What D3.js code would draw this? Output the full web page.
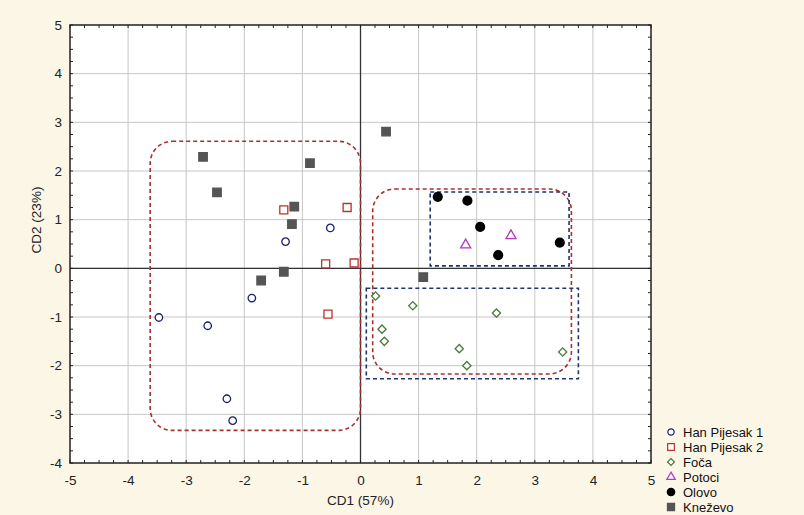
<!DOCTYPE html>
<html>
<head>
<meta charset="utf-8">
<script src="https://cdn.jsdelivr.net/npm/d3@7"></script>
<style>
  body { margin: 0; background: #fcf6e7; }
  text { font-family: "Liberation Sans", Arial, sans-serif; }
</style>
</head>
<body>
<div id="chart"></div>
<script>
// Axis ticks
const xTicks = d3.range(-5, 6);
const yTicks = d3.range(-4, 6);

// Group scores (CD1, CD2)
const hanP1X = [-0.52, -1.29, -1.87, -3.47, -2.63, -2.30, -2.20];
const hanP1Y = [0.83, 0.55, -0.61, -1.01, -1.18, -2.68, -3.13];
const hanP2X = [-1.32, -0.23, -0.60, -0.11, -0.56];
const hanP2Y = [1.20, 1.25, 0.09, 0.11, -0.94];
const focaX = [0.26, 0.90, 2.34, 0.37, 0.41, 1.70, 1.83, 3.48];
const focaY = [-0.57, -0.77, -0.92, -1.25, -1.50, -1.65, -2.00, -1.72];
const potociX = [2.59, 1.81];
const potociY = [0.67, 0.48];
const olovoX = [1.33, 1.84, 2.06, 3.43, 2.37];
const olovoY = [1.47, 1.39, 0.85, 0.53, 0.27];
const knezX = [-2.71, -0.87, -2.47, -1.14, -1.18, -1.32, -1.71, 0.44, 1.08];
const knezY = [2.29, 2.16, 1.56, 1.27, 0.91, -0.07, -0.25, 2.81, -0.18];

const seriesNames = ['Han Pijesak 1', 'Han Pijesak 2', 'Foča', 'Potoci', 'Olovo', 'Kneževo'];

// Dashed group outlines in data units: [x0, x1, y0, y1]
const redBoxes = [[-3.62, 0, -3.33, 2.61], [0.21, 3.63, -2.17, 1.63]];
const blueBoxes = [[1.2, 3.59, 0.05, 1.57], [0.1, 3.75, -2.27, -0.41]];

const margin = { top: 25, right: 153, bottom: 52, left: 70 };
const width = 804 - margin.left - margin.right;
const height = 515 - margin.top - margin.bottom;

const svg = d3.select('#chart')
  .append('svg')
  .attr('width', 804)
  .attr('height', 515);

const g = svg.append('g')
  .attr('transform', `translate(${margin.left}, ${margin.top})`);

const xScale = d3.scaleLinear().domain([-5, 5]).range([0, width]);
const yScale = d3.scaleLinear().domain([-4, 5]).range([height, 0]);

// plot area
g.append('rect')
  .attr('width', width)
  .attr('height', height)
  .attr('fill', '#fff');

// grid
g.selectAll('.vgrid').data(xTicks.slice(1, -1)).enter().append('line')
  .attr('x1', d => xScale(d)).attr('x2', d => xScale(d))
  .attr('y1', 0).attr('y2', height)
  .attr('stroke', '#c6c6c6').attr('stroke-width', 1);
g.selectAll('.hgrid').data(yTicks.slice(1, -1)).enter().append('line')
  .attr('y1', d => yScale(d)).attr('y2', d => yScale(d))
  .attr('x1', 0).attr('x2', width)
  .attr('stroke', '#c6c6c6').attr('stroke-width', 1);

// zero lines
g.append('line')
  .attr('x1', xScale(0)).attr('x2', xScale(0))
  .attr('y1', 0).attr('y2', height)
  .attr('stroke', '#333').attr('stroke-width', 1.3);
g.append('line')
  .attr('x1', 0).attr('x2', width)
  .attr('y1', yScale(0)).attr('y2', yScale(0))
  .attr('stroke', '#333').attr('stroke-width', 1.3);

// axes with inward ticks on all sides
const xMinor = d3.range(-5, 5.01, 0.25);
const yMinor = d3.range(-4, 5.01, 0.25);

const xBottom = g.append('g')
  .attr('transform', `translate(0, ${height})`)
  .call(d3.axisBottom(xScale).tickValues(xTicks).tickFormat(d => String(d)).tickSize(0).tickPadding(12));
const yLeft = g.append('g')
  .call(d3.axisLeft(yScale).tickValues(yTicks).tickFormat(d => String(d)).tickSize(0).tickPadding(8));
[xBottom, yLeft].forEach(a => {
  a.select('.domain').remove();
  a.selectAll('text').attr('font-size', 13.5).attr('fill', '#222')
    .attr('font-family', '"Liberation Sans", Arial, sans-serif');
});

const tickLen = 3;
g.selectAll('.tb').data(xMinor).enter().append('line')
  .attr('x1', d => xScale(d)).attr('x2', d => xScale(d))
  .attr('y1', height).attr('y2', height - tickLen)
  .attr('stroke', '#222');
g.selectAll('.tt').data(xMinor).enter().append('line')
  .attr('x1', d => xScale(d)).attr('x2', d => xScale(d))
  .attr('y1', 0).attr('y2', tickLen)
  .attr('stroke', '#222');
g.selectAll('.tl').data(yMinor).enter().append('line')
  .attr('y1', d => yScale(d)).attr('y2', d => yScale(d))
  .attr('x1', 0).attr('x2', tickLen)
  .attr('stroke', '#222');
g.selectAll('.tr').data(yMinor).enter().append('line')
  .attr('y1', d => yScale(d)).attr('y2', d => yScale(d))
  .attr('x1', width).attr('x2', width - tickLen)
  .attr('stroke', '#222');

// plot border
g.append('rect')
  .attr('width', width)
  .attr('height', height)
  .attr('fill', 'none')
  .attr('stroke', '#222')
  .attr('stroke-width', 1.5);

// group outlines
g.selectAll('.redbox').data(redBoxes).enter().append('rect')
  .attr('x', d => xScale(d[0]))
  .attr('y', d => yScale(d[3]))
  .attr('width', d => xScale(d[1]) - xScale(d[0]))
  .attr('height', d => yScale(d[2]) - yScale(d[3]))
  .attr('rx', 22).attr('ry', 22)
  .attr('fill', 'none')
  .attr('stroke', '#a8302f')
  .attr('stroke-width', 1.6)
  .attr('stroke-dasharray', '4,3');
g.selectAll('.bluebox').data(blueBoxes).enter().append('rect')
  .attr('x', d => xScale(d[0]))
  .attr('y', d => yScale(d[3]))
  .attr('width', d => xScale(d[1]) - xScale(d[0]))
  .attr('height', d => yScale(d[2]) - yScale(d[3]))
  .attr('fill', 'none')
  .attr('stroke', '#1d3470')
  .attr('stroke-width', 1.6)
  .attr('stroke-dasharray', '4,3');

// marker drawing (diamond = square turned 45 degrees)
const sym = {
  'Han Pijesak 1': { type: d3.symbolCircle, size: 44, rot: 0, fill: '#fff', stroke: '#1b1f70' },
  'Han Pijesak 2': { type: d3.symbolSquare, size: 64, rot: 0, fill: '#fff', stroke: '#c0302e' },
  'Foča': { type: d3.symbolSquare, size: 34, rot: 45, fill: '#fff', stroke: '#4b7a3c' },
  'Potoci': { type: d3.symbolTriangle, size: 44, rot: 0, fill: '#fff', stroke: '#b338c2' },
  'Olovo': { type: d3.symbolCircle, size: 62, rot: 0, fill: '#000', stroke: '#000' },
  'Kneževo': { type: d3.symbolSquare, size: 72, rot: 0, fill: '#555', stroke: '#555' }
};

function drawSeries(name, xs, ys) {
  const s = sym[name];
  g.selectAll(null).data(xs.map((x, i) => [x, ys[i]])).enter().append('path')
    .attr('transform', d => `translate(${xScale(d[0])}, ${yScale(d[1])}) rotate(${s.rot})`)
    .attr('d', d3.symbol().type(s.type).size(s.size))
    .attr('fill', s.fill)
    .attr('stroke', s.stroke)
    .attr('stroke-width', 1.3);
}

drawSeries('Kneževo', knezX, knezY);
drawSeries('Han Pijesak 1', hanP1X, hanP1Y);
drawSeries('Han Pijesak 2', hanP2X, hanP2Y);
drawSeries('Foča', focaX, focaY);
drawSeries('Potoci', potociX, potociY);
drawSeries('Olovo', olovoX, olovoY);

// axis titles
svg.append('text')
  .attr('x', margin.left + xScale(0))
  .attr('y', 505)
  .attr('text-anchor', 'middle')
  .attr('font-size', 13.5)
  .attr('fill', '#222')
  .text('CD1 (57%)');

svg.append('text')
  .attr('transform', 'rotate(-90)')
  .attr('x', -220)
  .attr('y', 41)
  .attr('text-anchor', 'middle')
  .attr('font-size', 13.5)
  .attr('fill', '#222')
  .text('CD2 (23%)');

// legend
const legend = svg.append('g').attr('transform', 'translate(671, 432)');
seriesNames.forEach((name, i) => {
  const s = sym[name];
  const row = legend.append('g').attr('transform', `translate(0, ${i * 15})`);
  row.append('path')
    .attr('transform', `rotate(${s.rot})`)
    .attr('d', d3.symbol().type(s.type).size(s.size * 0.7))
    .attr('fill', s.fill)
    .attr('stroke', s.stroke)
    .attr('stroke-width', 1.2);
  row.append('text')
    .attr('x', 12)
    .attr('y', 4.5)
    .attr('font-size', 13)
    .attr('fill', '#111')
    .text(name);
});
</script>
</body>
</html>
